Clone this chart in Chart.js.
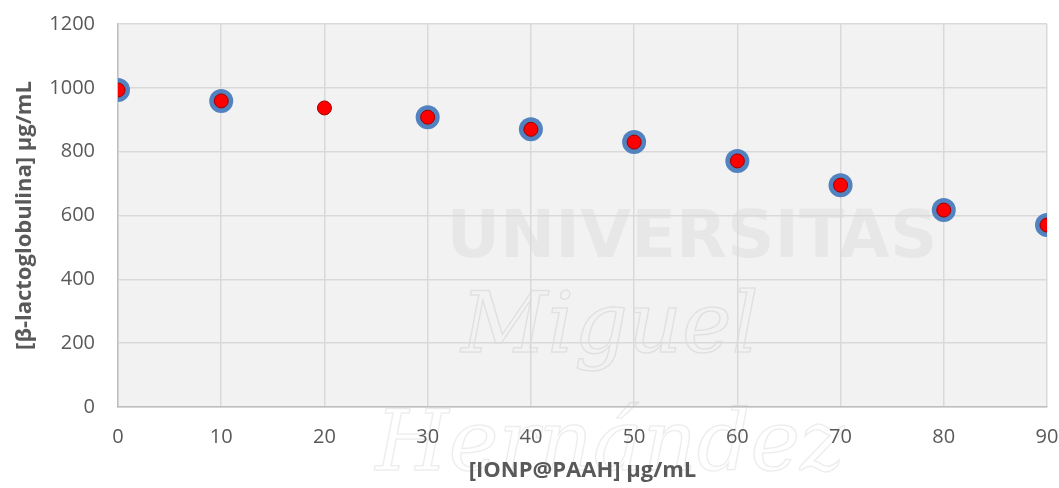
<!DOCTYPE html>
<html>
<head>
<meta charset="utf-8">
<script src="https://cdn.jsdelivr.net/npm/chart.js@4/dist/chart.umd.min.js"></script>
<style>
  html, body { margin: 0; padding: 0; background: #ffffff; }
  #wrap { width: 1059px; height: 488px; }
</style>
</head>
<body>
<div id="wrap"><canvas id="chart" width="1059" height="488"></canvas></div>
<script>
// concentration of IONP@PAAH (µg/mL) and remaining β-lactoglobulin (µg/mL)
const concentrations = [0, 10, 20, 30, 40, 50, 60, 70, 80, 90]
const lactoglobulin = [993, 959, 937, 908, 870, 830, 771, 695, 617, 570]
// points drawn with the blue ring (the 20 µg/mL point has none)
const ringed = [true, true, false, true, true, true, true, true, true, true]
const xTicks = [0, 10, 20, 30, 40, 50, 60, 70, 80, 90]
const yTicks = [0, 200, 400, 600, 800, 1000, 1200]

const points = concentrations.map((c, i) => ({ x: c, y: lactoglobulin[i] }))
const fontFamily = "'Open Sans', Lato, 'DejaVu Sans', sans-serif"

// light grey plot area + faint watermark behind the points
const plotBackground = {
    id: 'plotBackground',
    beforeDraw(chart) {
        const { ctx, chartArea: a } = chart
        ctx.save()
        ctx.fillStyle = '#f2f2f2'
        ctx.fillRect(a.left, a.top, a.right - a.left, a.bottom - a.top)
        ctx.textAlign = 'center'
        ctx.textBaseline = 'middle'
        ctx.fillStyle = 'rgba(0,0,0,0.045)'
        ctx.font = "bold 66px 'DejaVu Sans', sans-serif"
        ctx.fillText('UNIVERSITAS', 692, 240)
        ctx.strokeStyle = 'rgba(0,0,0,0.07)'
        ctx.lineWidth = 1.5
        ctx.font = "italic 84px 'DejaVu Serif', serif"
        ctx.strokeText('Miguel', 610, 330)
        ctx.strokeText('Hernández', 610, 448)
        ctx.restore()
    }
}

new Chart(document.getElementById('chart'), {
    type: 'scatter',
    data: {
        datasets: [
            {
                label: 'β-lactoglobulina',
                data: points,
                backgroundColor: '#ff0000',
                borderColor: '#9c0000',
                borderWidth: 1,
                pointRadius: 7,
                pointHoverRadius: 7
            },
            {
                label: 'ring',
                data: points,
                backgroundColor: '#5283c0',
                borderWidth: 0,
                pointRadius: ctx => ringed[ctx.dataIndex] ? 12 : 0,
                pointHoverRadius: ctx => ringed[ctx.dataIndex] ? 12 : 0
            }
        ]
    },
    options: {
        responsive: false,
        animation: false,
        layout: { autoPadding: false, padding: { top: 24, right: 12, left: 0, bottom: 0 } },
        plugins: {
            legend: { display: false },
            tooltip: { enabled: false }
        },
        scales: {
            x: {
                type: 'linear',
                min: 0,
                max: 90,
                afterBuildTicks: axis => { axis.ticks = xTicks.map(v => ({ value: v })) },
                afterFit: axis => {
                    axis.height = 81
                    axis.paddingLeft = 0
                    axis.paddingRight = 0
                },
                grid: { color: '#d9d9d9', lineWidth: 1.5, drawTicks: false },
                border: { color: '#bfbfbf', width: 1.5 },
                ticks: {
                    color: '#595959',
                    font: { family: fontFamily, size: 20 },
                    padding: 18,
                    maxRotation: 0,
                    callback: v => String(v)
                },
                title: {
                    display: true,
                    text: '[IONP@PAAH] µg/mL',
                    color: '#595959',
                    font: { family: fontFamily, size: 22, weight: 'bold' },
                    padding: { top: 0, bottom: 4 }
                }
            },
            y: {
                min: 0,
                max: 1200,
                afterBuildTicks: axis => { axis.ticks = yTicks.map(v => ({ value: v })) },
                afterFit: axis => {
                    axis.width = 118
                    axis.paddingTop = 0
                    axis.paddingBottom = 0
                },
                grid: { color: '#d9d9d9', lineWidth: 1.5, drawTicks: false },
                border: { color: '#bfbfbf', width: 1.5 },
                ticks: {
                    color: '#595959',
                    font: { family: fontFamily, size: 20 },
                    padding: 23,
                    callback: v => String(v)
                },
                title: {
                    display: true,
                    text: '[β-lactoglobulina] µg/mL',
                    color: '#595959',
                    font: { family: fontFamily, size: 22, weight: 'bold' },
                    padding: { top: 12, bottom: 0 }
                }
            }
        }
    },
    plugins: [plotBackground]
})
</script>
</body>
</html>
